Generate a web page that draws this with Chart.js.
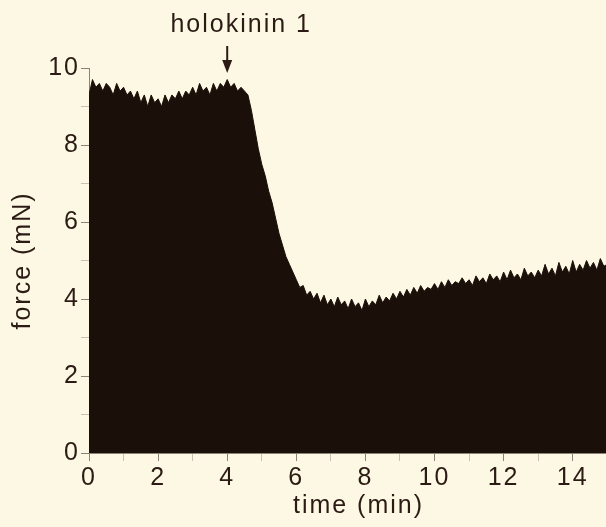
<!DOCTYPE html>
<html>
<head>
<meta charset="utf-8">
<script src="https://cdn.jsdelivr.net/npm/chart.js@4/dist/chart.umd.min.js"></script>
<style>
  html, body { margin: 0; padding: 0; background: #fdf8e3; }
  .wrap { width: 606px; height: 527px; position: relative; }
</style>
</head>
<body>
<div class="wrap"><canvas id="forceChart"></canvas></div>
<script>
// DATA
// force trace, one value every 0.1 min from 0 to 15 min
const startTime = 0
const sampleStep = 0.1
const force = [
  9.3, 9.7, 9.5, 9.6, 9.4, 9.6, 9.5, 9.3, 9.6, 9.4,
  9.5, 9.3, 9.4, 9.2, 9.4, 9.1, 9.3, 9.0, 9.3, 9.1,
  9.2, 9.0, 9.3, 9.1, 9.3, 9.2, 9.4, 9.2, 9.4, 9.3,
  9.5, 9.3, 9.6, 9.4, 9.5, 9.3, 9.6, 9.4, 9.6, 9.5,
  9.7, 9.5, 9.6, 9.4, 9.5, 9.4, 9.3, 8.9, 8.4, 7.9,
  7.5, 7.2, 6.8, 6.5, 6.1, 5.7, 5.4, 5.1, 4.9, 4.7,
  4.5, 4.3, 4.35, 4.1, 4.2, 4.0, 4.15, 3.9, 4.1, 3.85,
  4.0, 3.8, 4.05, 3.85, 3.95, 3.75, 4.0, 3.8, 3.9, 3.7,
  4.0, 3.8, 3.95, 3.85, 4.1, 3.9, 4.05, 3.95, 4.15, 4.0,
  4.2, 4.05, 4.25, 4.1, 4.3, 4.15, 4.35, 4.2, 4.3, 4.25,
  4.4, 4.25, 4.45, 4.3, 4.5, 4.35, 4.45, 4.4, 4.55, 4.4,
  4.5, 4.35, 4.6, 4.45, 4.55, 4.4, 4.65, 4.5, 4.6, 4.45,
  4.7, 4.5, 4.75, 4.55, 4.65, 4.5, 4.8, 4.6, 4.7, 4.55,
  4.75, 4.6, 4.9, 4.65, 4.8, 4.6, 4.95, 4.7, 4.85, 4.65,
  5.0, 4.7, 4.9, 4.75, 5.0, 4.8, 4.95, 4.75, 5.05, 4.85,
  4.9
]
const xTickLabels = [0, 2, 4, 6, 8, 10, 12, 14]
const yTickLabels = [0, 2, 4, 6, 8, 10]
const arrowAt = 4 // min, holokinin 1 added
const arrowText = 'holokinin 1'

const ink = '#2b1b14'
const fillColor = '#1a0f09'
const axisColor = '#8c8278'
const minorColor = '#c9c0b3'
const font = { family: '"Liberation Sans", Arial, sans-serif', size: 25 }
const spacing = '2px' // the original lettering is loosely tracked
const axisRight = 628 // the original time axis runs on past the right edge of the picture

const points = force.map((v, i) => ({ x: startTime + i * sampleStep, y: v }))

// loose letter spacing for every label (canvas state is reset on resize, so set it before layout and draw)
const spacingPlugin = {
  id: 'spacingPlugin',
  beforeLayout(chart) { chart.ctx.letterSpacing = spacing },
  beforeDraw(chart) { chart.ctx.letterSpacing = spacing }
}

// stretch the x axis (and its centred title) past the canvas edge
const overhangPlugin = {
  id: 'overhangPlugin',
  afterLayout(chart) {
    const sx = chart.scales.x
    sx.right = axisRight
    sx.width = sx.right - sx.left
    sx.configure()
    chart.chartArea.right = axisRight
    chart.chartArea.width = axisRight - chart.chartArea.left
  }
}

// arrow + text above the trace
const arrowPlugin = {
  id: 'arrowPlugin',
  afterDraw(chart) {
    const c = chart.ctx
    const x = chart.scales.x.getPixelForValue(arrowAt)
    c.save()
    c.fillStyle = ink
    c.strokeStyle = ink
    c.font = `${font.size}px ${font.family}`
    c.textAlign = 'center'
    c.textBaseline = 'middle'
    c.fillText(arrowText, x + 14, 25)
    c.lineWidth = 2
    c.beginPath()
    c.moveTo(x, 46)
    c.lineTo(x, 64)
    c.stroke()
    c.beginPath()
    c.moveTo(x - 5, 60)
    c.lineTo(x + 5, 60)
    c.lineTo(x, 73)
    c.closePath()
    c.fill()
    c.restore()
  }
}

new Chart(document.getElementById('forceChart'), {
  type: 'line',
  data: {
    datasets: [{
      data: points,
      borderColor: fillColor,
      backgroundColor: fillColor,
      borderWidth: 1,
      fill: 'origin',
      pointRadius: 0,
      tension: 0,
    }]
  },
  options: {
    responsive: true,
    maintainAspectRatio: false,
    animation: false,
    layout: { padding: { top: 68, right: 0, left: 0, bottom: 0 } },
    plugins: {
      legend: { display: false },
      tooltip: { enabled: false },
    },
    scales: {
      x: {
        type: 'linear',
        min: 0,
        max: 15.6,
        afterBuildTicks: (scale) => {
          scale.ticks = scale.ticks.filter(t => Number.isInteger(t.value))
        },
        afterFit: (scale) => { scale.height = 74 },
        border: { color: axisColor, width: 1 },
        grid: {
          drawOnChartArea: false,
          tickLength: 8,
          tickColor: (ctx) => ctx.tick && xTickLabels.includes(ctx.tick.value) ? axisColor : minorColor,
        },
        ticks: {
          stepSize: 1,
          autoSkip: false,
          maxRotation: 0,
          padding: 2,
          color: ink,
          font: font,
          callback: (v) => xTickLabels.includes(v) ? String(v) : '',
        },
        title: { display: true, text: 'time (min)', color: ink, font: font, padding: { top: 0, bottom: 6 } },
      },
      y: {
        min: 0,
        max: 10,
        afterFit: (scale) => { scale.width = 89 },
        border: { color: axisColor, width: 1 },
        grid: {
          drawOnChartArea: false,
          tickLength: 8,
          tickColor: (ctx) => ctx.tick && yTickLabels.includes(ctx.tick.value) ? axisColor : minorColor,
        },
        ticks: {
          stepSize: 1,
          autoSkip: false,
          padding: 1,
          color: ink,
          font: font,
          callback: (v) => yTickLabels.includes(v) ? String(v) : '',
        },
        title: { display: true, text: 'force (mN)', color: ink, font: font, padding: { top: 8, bottom: 0 } },
      }
    }
  },
  plugins: [spacingPlugin, overhangPlugin, arrowPlugin]
});
</script>
</body>
</html>
